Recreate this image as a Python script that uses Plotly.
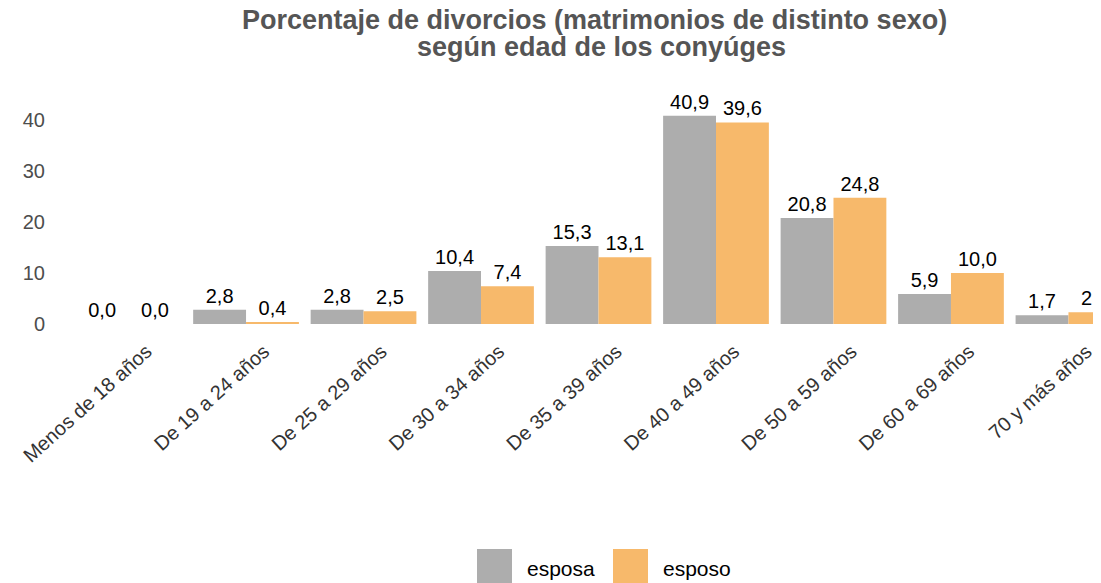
import plotly.graph_objects as go

categorias = ["Menos de 18 años", "De 19 a 24 años", "De 25 a 29 años", "De 30 a 34 años",
              "De 35 a 39 años", "De 40 a 49 años", "De 50 a 59 años", "De 60 a 69 años",
              "70 y más años"]
esposa = [0.0, 2.8, 2.8, 10.4, 15.3, 40.9, 20.8, 5.9, 1.7]
esposo = [0.0, 0.4, 2.5, 7.4, 13.1, 39.6, 24.8, 10.0, 2.3]
series = [("esposa", esposa), ("esposo", esposo)]

colores = {"esposa": "#adadad", "esposo": "#f7b96b"}
FONT = "Liberation Sans, Arial, sans-serif"

# the page body has an 8px margin: the figure starts at (8, 8) on screen
OFF = 8
W, H = 1101 - OFF, 583 - OFF
ML, MR, MT, MB = 55 - OFF, 0, 100 - OFF, 259
PW, PH = W - ML - MR, H - MT - MB


def px(x):  # screen pixel -> paper x
    return (x - OFF - ML) / PW


def py(y):  # screen pixel -> paper y
    return (H - MB - (y - OFF)) / PH


fig = go.Figure()
for name, vals in series:
    fig.add_trace(go.Bar(
        x=categorias, y=vals, name=name,
        marker=dict(color=colores[name], line=dict(width=0)),
        texttemplate="%{y:.1f}", textposition="outside", cliponaxis=False,
        textfont=dict(size=20, color="#000000", family=FONT),
        showlegend=False,
    ))

fig.update_layout(
    width=W, height=H,
    margin=dict(l=ML, r=MR, t=MT, b=MB),
    paper_bgcolor="white", plot_bgcolor="white",
    separators=",.",
    barmode="group", bargap=0.1, bargroupgap=0,
    font=dict(family=FONT),
    uniformtext=dict(mode=False),
    xaxis=dict(
        range=[-0.626, 8.277], tickangle=-42, showgrid=False, showline=False, zeroline=False,
        ticks="", automargin=False, ticklabelshift=18, ticklabelstandoff=11,
        tickfont=dict(size=20, color="#333333", family=FONT),
    ),
    yaxis=dict(
        range=[0, 44], tickvals=[0, 10, 20, 30, 40], showgrid=False, zeroline=False,
        showline=False, ticks="", automargin=False,
        tickfont=dict(size=20, color="#4d4d4d", family=FONT),
        ticklabelstandoff=9,
    ),
)

# title as two centred lines
for text, xc, yc in [("Porcentaje de divorcios (matrimonios de distinto sexo)", 594, 20),
                     ("según edad de los conyúges", 601, 47)]:
    fig.add_annotation(xref="paper", yref="paper", x=px(xc), y=py(yc),
                       xanchor="center", yanchor="middle", showarrow=False,
                       text="<b>" + text + "</b>",
                       font=dict(size=27, color="#555555", family=FONT))

# legend drawn with shapes + text
for x0, (label, _) in zip([477, 613], series):
    fig.add_shape(type="rect", xref="paper", yref="paper",
                  x0=px(x0), x1=px(x0 + 35), y0=py(585), y1=py(549),
                  fillcolor=colores[label], line=dict(width=0), layer="above")
    fig.add_annotation(xref="paper", yref="paper", x=px(x0 + 48), y=py(568),
                       xanchor="left", yanchor="middle", text=label, showarrow=False,
                       font=dict(size=21, color="#000000", family=FONT))

fig.write_html("out.html")
